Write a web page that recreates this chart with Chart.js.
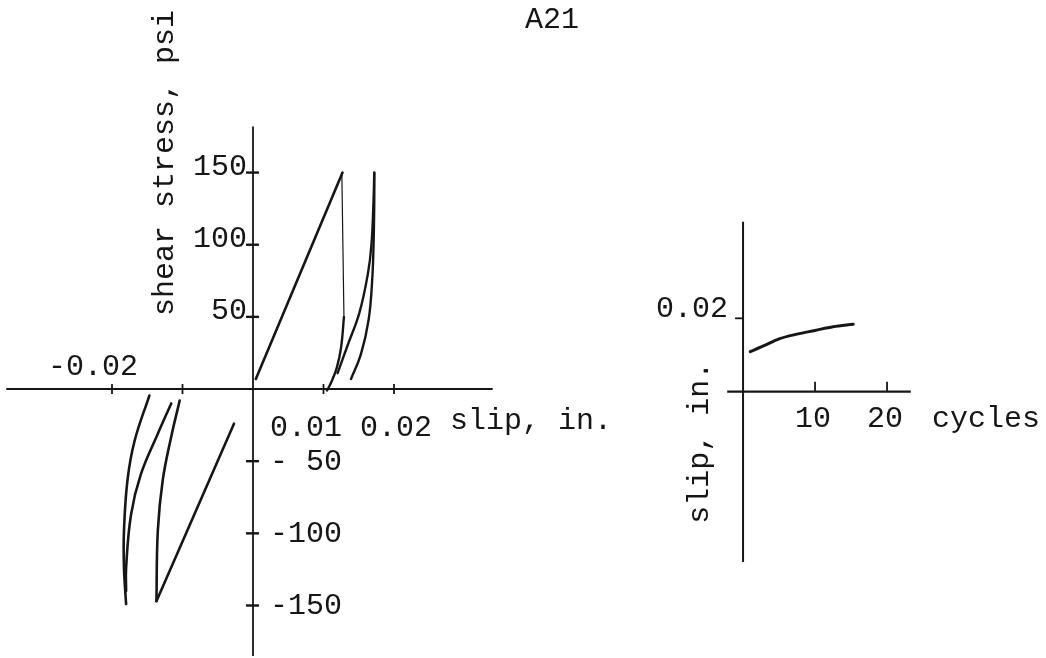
<!DOCTYPE html>
<html>
<head>
<meta charset="utf-8">
<title>A21</title>
<script src="https://cdn.jsdelivr.net/npm/chart.js@4.4.1/dist/chart.umd.min.js"></script>
<style>
  html, body { margin: 0; padding: 0; background: #fff; }
  #wrap { position: relative; width: 1046px; height: 658px; }
  #wrap canvas { position: absolute; left: 0; top: 0; }
</style>
</head>
<body>
<div id="wrap">
  <canvas id="loops" width="1046" height="658"></canvas>
  <canvas id="growth" width="1046" height="658"></canvas>
</div>
<script>
// ---- hysteresis loops: slip (in.) vs shear stress (psi) ----
const firstLoadSlip   = [0.0004, 0.0127];
const firstLoadStress = [7, 150];

const dropSlip   = [0.0126, 0.0129];
const dropStress = [150, 50];

const unloadSlip   = [0.0129, 0.0125, 0.0119, 0.0111, 0.0105];
const unloadStress = [50, 29, 15, 4.7, -1];

const reloadASlip   = [0.0120, 0.0134, 0.0151, 0.0163, 0.0168, 0.0171, 0.0172];
const reloadAStress = [11, 30, 53, 80, 100, 131, 150];

const reloadBSlip   = [0.0139, 0.0153, 0.0164, 0.0169, 0.0171, 0.0172, 0.0172];
const reloadBStress = [7, 24, 48, 75, 100, 130, 150];

const reverseLoadSlip   = [-0.0027, -0.0137];
const reverseLoadStress = [-24, -147];

const reverseUnloadSlip   = [-0.0137, -0.0135, -0.0128, -0.0116, -0.0104];
const reverseUnloadStress = [-147, -98, -63, -33, -8];

const reverseACurveSlip   = [-0.0180, -0.0183, -0.0183, -0.0178, -0.0168, -0.0147];
const reverseACurveStress = [-149, -124, -98, -63, -36, -4.5];

const reverseBCurveSlip   = [-0.0180, -0.0180, -0.0173, -0.0159, -0.0135, -0.0116];
const reverseBCurveStress = [-140, -124, -87, -59, -31, -10];

const stressTickValues = [150, 100, 50, -50, -100, -150];
const stressTickText   = ['150', '100', '50', '- 50', '-100', '-150'];
const slipTickValues   = [-0.02, -0.01, 0.01, 0.02];
const slipTickText     = ['-0.02', '', '0.01', '0.02'];

// ---- slip growth with cycling ----
const cycleValues = [1, 3, 5, 7.5, 10, 12.5, 15.3];
const cycleSlip   = [0.0109, 0.0126, 0.0144, 0.0157, 0.0167, 0.0177, 0.0184];

const cycleTickValues = [10, 20];
const cycleTickText   = ['10', '20'];
const growthSlipTicks = [0.02];
const growthSlipText  = ['0.02'];

const INK = '#161616';
const TYPE_FONT = '30px "Liberation Mono", "DejaVu Sans Mono", monospace';

function pts(xs, ys) { return xs.map((v, i) => ({ x: v, y: ys[i] })); }

function branch(xs, ys, width, tension) {
  return {
    data: pts(xs, ys),
    borderColor: INK,
    borderWidth: width,
    tension: tension,
    pointRadius: 0,
    fill: false,
    borderCapStyle: 'round',
    borderJoinStyle: 'round'
  };
}

function seg(ctx, x1, y1, x2, y2, w) {
  ctx.lineWidth = w;
  ctx.beginPath();
  ctx.moveTo(x1, y1);
  ctx.lineTo(x2, y2);
  ctx.stroke();
}

// axes crossing at the origin, with typed labels
const loopAxes = {
  id: 'loopAxes',
  afterDraw(chart) {
    const { ctx, chartArea: a, scales: { x, y } } = chart;
    const x0 = x.getPixelForValue(0);
    const y0 = y.getPixelForValue(0);
    ctx.save();
    ctx.strokeStyle = INK;
    ctx.fillStyle = INK;
    ctx.lineCap = 'butt';
    seg(ctx, a.left, y0, a.right, y0, 2);
    seg(ctx, x0, a.top, x0, a.bottom, 1.8);

    slipTickValues.forEach(v => {
      const px = x.getPixelForValue(v);
      seg(ctx, px, y0 - 5, px, y0 + 5, 1.8);
    });
    stressTickValues.forEach(v => {
      const py = y.getPixelForValue(v);
      seg(ctx, x0 - 7, py, x0 + 6, py, 2.4);
    });

    ctx.font = TYPE_FONT;
    ctx.textBaseline = 'alphabetic';

    // stress labels: positive to the left of the axis, negative to the right
    stressTickValues.forEach((v, i) => {
      const py = y.getPixelForValue(v);
      if (v > 0) {
        ctx.textAlign = 'right';
        ctx.fillText(stressTickText[i], x0 - 6, py + 2);
      } else {
        ctx.textAlign = 'left';
        ctx.fillText(stressTickText[i], x0 + 17, py + 9);
      }
    });

    // negative slip label sits above the axis
    ctx.textAlign = 'left';
    slipTickValues.forEach((v, i) => {
      if (v < 0 && slipTickText[i]) {
        const px = x.getPixelForValue(v);
        ctx.fillText(slipTickText[i], px - 64, y0 - 14);
      }
    });

    // positive slip labels typed in one row, followed by the axis title
    let cx = x0 + 17;
    slipTickValues.forEach((v, i) => {
      if (v > 0 && slipTickText[i]) {
        ctx.fillText(slipTickText[i], cx, y0 + 47);
        cx += ctx.measureText(slipTickText[i] + ' ').width;
      }
    });
    ctx.fillText('slip, in.', cx, y0 + 40);

    // vertical axis title
    ctx.save();
    ctx.translate(x0 - 80, y0 - 73);
    ctx.rotate(-Math.PI / 2);
    ctx.fillText('shear stress, psi', 0, 0);
    ctx.restore();

    // figure label
    ctx.fillText('A21', x0 + 272, 28);
    ctx.restore();
  }
};

const growthAxes = {
  id: 'growthAxes',
  afterDraw(chart) {
    const { ctx, chartArea: a, scales: { x, y } } = chart;
    const x0 = x.getPixelForValue(0);
    const y0 = y.getPixelForValue(0);
    ctx.save();
    ctx.strokeStyle = INK;
    ctx.fillStyle = INK;
    seg(ctx, a.left, y0, a.right, y0, 2.2);
    seg(ctx, x0, a.top, x0, a.bottom, 2);

    cycleTickValues.forEach(v => {
      const px = x.getPixelForValue(v);
      seg(ctx, px, y0 - 10, px, y0, 1.8);
    });
    growthSlipTicks.forEach(v => {
      const py = y.getPixelForValue(v);
      seg(ctx, x0 - 8, py, x0, py, 1.8);
    });

    ctx.font = TYPE_FONT;
    ctx.textBaseline = 'alphabetic';
    ctx.textAlign = 'center';
    cycleTickValues.forEach((v, i) => {
      ctx.fillText(cycleTickText[i], x.getPixelForValue(v) - 2, y0 + 35);
    });
    ctx.textAlign = 'left';
    ctx.fillText('cycles', x0 + 189, y0 + 35);

    ctx.textAlign = 'right';
    growthSlipTicks.forEach((v, i) => {
      ctx.fillText(growthSlipText[i], x0 - 15, y.getPixelForValue(v) - 1);
    });

    ctx.textAlign = 'left';
    ctx.save();
    ctx.translate(x0 - 35, y0 + 132);
    ctx.rotate(-Math.PI / 2);
    ctx.fillText('slip, in.', 0, 0);
    ctx.restore();
    ctx.restore();
  }
};

const commonOptions = {
  responsive: false,
  animation: false,
  devicePixelRatio: 1,
  events: [],
  plugins: { legend: { display: false }, tooltip: { enabled: false }, title: { display: false } }
};

new Chart(document.getElementById('loops'), {
  type: 'line',
  data: {
    datasets: [
      branch(firstLoadSlip, firstLoadStress, 2.6, 0),
      branch(dropSlip, dropStress, 1.2, 0),
      branch(unloadSlip, unloadStress, 2.4, 0.4),
      branch(reloadASlip, reloadAStress, 2.4, 0.4),
      branch(reloadBSlip, reloadBStress, 2.4, 0.4),
      branch(reverseLoadSlip, reverseLoadStress, 2.6, 0),
      branch(reverseUnloadSlip, reverseUnloadStress, 2.6, 0.4),
      branch(reverseACurveSlip, reverseACurveStress, 2.6, 0.4),
      branch(reverseBCurveSlip, reverseBCurveStress, 2.6, 0.4)
    ]
  },
  options: Object.assign({}, commonOptions, {
    layout: { padding: { left: 6.25, right: 553.3, top: 126.4, bottom: 2 } },
    scales: {
      x: { type: 'linear', display: false, min: -0.035, max: 0.034 },
      y: { type: 'linear', display: false, min: -185, max: 182 }
    }
  }),
  plugins: [loopAxes]
});

const growthLine = branch(cycleValues, cycleSlip, 3, 0.4);
growthLine.cubicInterpolationMode = 'monotone';

new Chart(document.getElementById('growth'), {
  type: 'line',
  data: { datasets: [growthLine] },
  options: Object.assign({}, commonOptions, {
    layout: { padding: { left: 727.2, right: 135.2, top: 221.8, bottom: 96 } },
    scales: {
      x: { type: 'linear', display: false, min: -2.2, max: 23.3 },
      y: { type: 'linear', display: false, min: -0.0464, max: 0.0463 }
    }
  }),
  plugins: [growthAxes]
});
</script>
</body>
</html>
